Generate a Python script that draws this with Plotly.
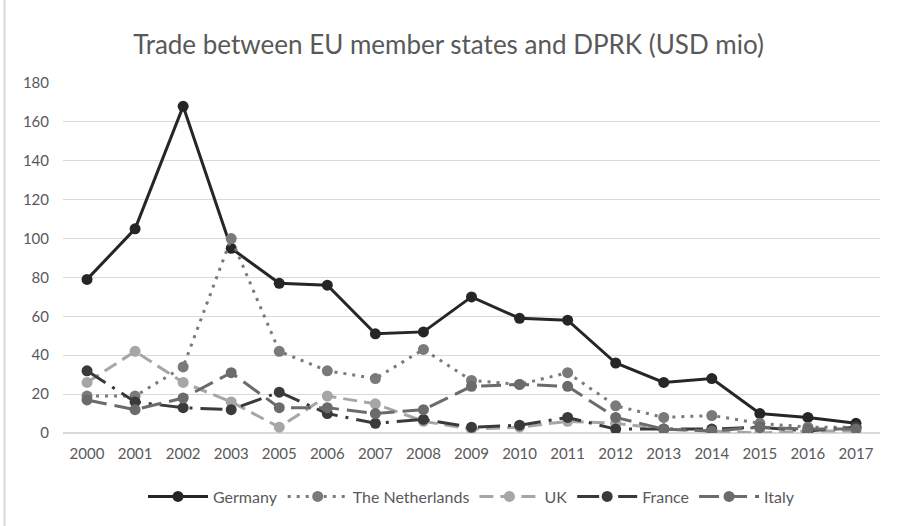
import plotly.graph_objects as go

years = ["2000", "2001", "2002", "2003", "2005", "2006", "2007", "2008", "2009",
         "2010", "2011", "2012", "2013", "2014", "2015", "2016", "2017"]

germany = [79, 105, 168, 95, 77, 76, 51, 52, 70, 59, 58, 36, 26, 28, 10, 8, 5]
netherlands = [19, 19, 34, 100, 42, 32, 28, 43, 27, 25, 31, 14, 8, 9, 5, 3, 3]
uk = [26, 42, 26, 16, 3, 19, 15, 6, 2, 3, 6, 5, 2, 1, 0, 1, 1]
france = [32, 16, 13, 12, 21, 10, 5, 7, 3, 4, 8, 2, 2, 2, 3, 1, 3]
italy = [17, 12, 18, 31, 13, 13, 10, 12, 24, 25, 24, 8, 2, 1, 3, 2, 2]

series = [
    ("Germany", germany, "#262626", "solid"),
    ("The Netherlands", netherlands, "#7a7a7a", "3px,6px"),
    ("UK", uk, "#a6a6a6", "14px,7px"),
    ("France", france, "#3a3a3a", "22px,8px,3px,8px"),
    ("Italy", italy, "#6b6b6b", "20px,8px"),
]

fig = go.Figure()
for name, vals, color, dash in series:
    fig.add_trace(go.Scatter(
        x=years, y=vals, name=name, mode="lines+markers",
        line=dict(color=color, width=3, dash=dash),
        marker=dict(color=color, size=11, symbol="circle"),
    ))

font_family = "Lato, 'Open Sans', sans-serif"
W, H = 897, 526
L, R, T, B = 63, 17, 83, 93
pw, ph = W - L - R, H - T - B

fig.update_layout(
    width=W, height=H,
    margin=dict(l=L, r=R, t=T, b=B, autoexpand=False),
    paper_bgcolor="white", plot_bgcolor="white",
    title=dict(text="Trade between EU member states and DPRK (USD mio)",
               x=0.5, xanchor="center", y=1 - 45 / H, yanchor="middle",
               font=dict(family=font_family, size=26, color="#595959")),
    font=dict(family=font_family, size=15, color="#595959"),
    xaxis=dict(type="category", range=[-0.5, 16.5], showgrid=False,
               showline=False, ticks="", ticklabelstandoff=10,
               tickfont=dict(size=15, color="#595959")),
    yaxis=dict(range=[0, 180], dtick=20, showgrid=True, gridcolor="#d9d9d9",
               gridwidth=1, zeroline=True, zerolinecolor="#d9d9d9", showline=False,
               ticks="", ticklabelstandoff=13,
               tickfont=dict(size=15, color="#595959")),
    legend=dict(orientation="h", x=0.5, xanchor="center", y=-0.133,
                yanchor="top", font=dict(size=16, color="#595959"),
                itemwidth=60, traceorder="normal"),
    showlegend=True,
)
# chart border (left and top edges visible)
bx = (4.5 - L) / pw
by = (H - T - 5) / ph
fig.add_shape(type="line", xref="paper", yref="paper",
              x0=bx, x1=bx, y0=-B / ph, y1=by, line=dict(color="#d9d9d9", width=2))
fig.add_shape(type="line", xref="paper", yref="paper",
              x0=bx, x1=(W - L) / pw, y0=by, y1=by, line=dict(color="#d9d9d9", width=2))
fig.write_html("out.html", config={"displayModeBar": False},
               post_script="document.body.style.margin='0';")
